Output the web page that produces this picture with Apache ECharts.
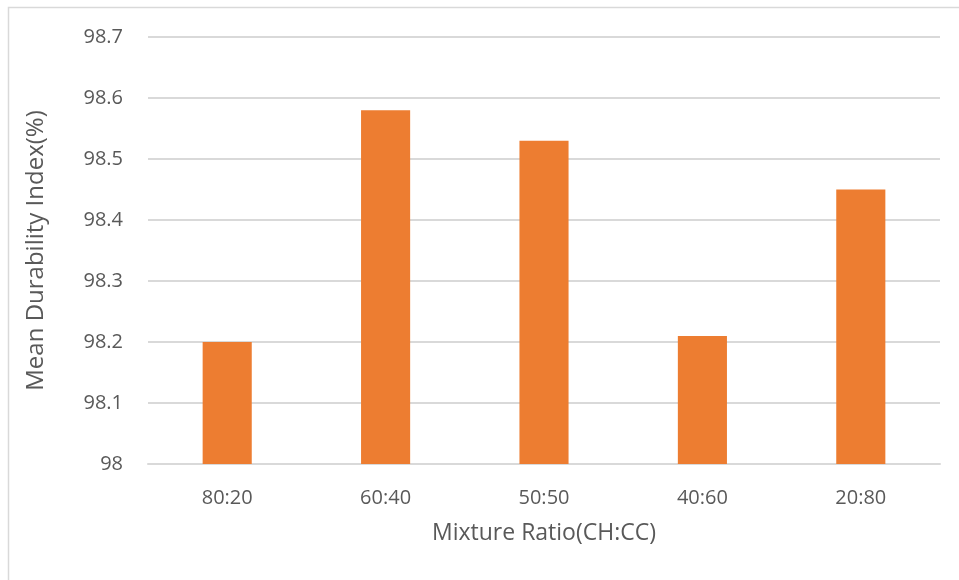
<!DOCTYPE html>
<html>
<head>
<meta charset="utf-8">
<script src="https://cdn.jsdelivr.net/npm/echarts@6/dist/echarts.min.js"></script>
<style>html,body{margin:0;padding:0;background:#fff}#c{width:959px;height:580px}</style>
</head>
<body>
<div id="c"></div>
<script>
const categories = ['80:20', '60:40', '50:50', '40:60', '20:80'];
const durability = [98.2, 98.58, 98.53, 98.21, 98.45];
const yTicks = { min: 98, max: 98.7, interval: 0.1 };
const xTitle = 'Mixture Ratio(CH:CC)';
const yTitle = 'Mean Durability Index(%)';

const chart = echarts.init(document.getElementById('c'), null, { renderer: 'canvas' });
const font = '"Open Sans", "Noto Sans", sans-serif';
chart.setOption({
  animation: false,
  backgroundColor: '#fff',
  graphic: [{
    type: 'rect', silent: true,
    shape: { x: 8.5, y: 7.5, width: 1000, height: 1000 },
    style: { fill: 'none', stroke: '#d9d9d9', lineWidth: 1.5 }
  }],
  grid: { left: 148, right: 19, top: 37, bottom: 116, containLabel: false },
  xAxis: {
    type: 'category',
    data: categories,
    name: xTitle,
    nameLocation: 'middle',
    nameGap: 58,
    nameTextStyle: { fontFamily: font, fontSize: 23, color: '#595959' },
    axisLine: { show: true, lineStyle: { color: '#d9d9d9', width: 2 } },
    axisTick: { show: false },
    axisLabel: { fontFamily: font, fontSize: 20, color: '#595959', margin: 24 }
  },
  yAxis: {
    type: 'value',
    min: yTicks.min, max: yTicks.max, interval: yTicks.interval,
    name: yTitle,
    nameLocation: 'middle',
    nameGap: 100,
    nameTextStyle: { fontFamily: font, fontSize: 24, color: '#595959' },
    axisLine: { show: false },
    axisTick: { show: false },
    splitLine: { lineStyle: { color: '#d9d9d9', width: 2 } },
    axisLabel: {
      fontFamily: font, fontSize: 20, color: '#595959', margin: 25,
      formatter: v => String(Math.round(v * 10) / 10)
    }
  },
  series: [{
    type: 'bar',
    data: durability,
    barWidth: '31%',
    itemStyle: { color: '#ED7D31' }
  }]
});
</script>
</body>
</html>
